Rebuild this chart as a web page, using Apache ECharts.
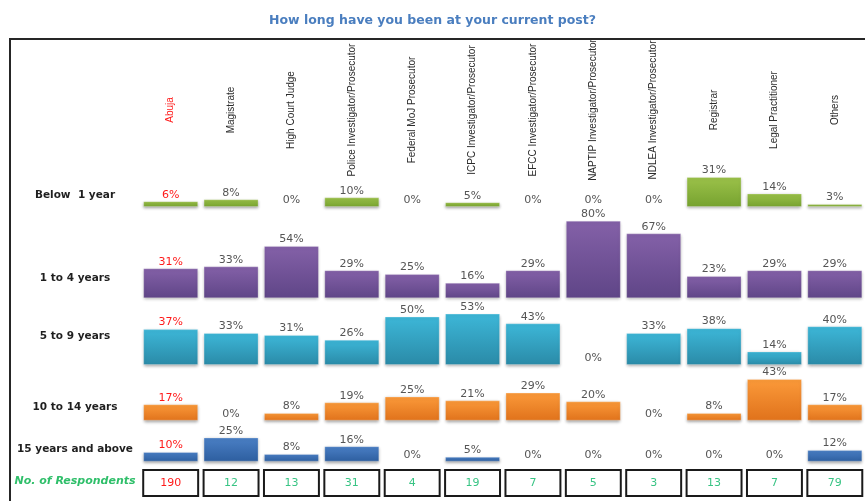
<!DOCTYPE html>
<html>
<head>
<meta charset="utf-8">
<title>How long have you been at your current post?</title>
<script src="https://cdn.jsdelivr.net/npm/echarts@6/dist/echarts.min.js"></script>
<style>
  html, body { margin: 0; padding: 0; background: #ffffff; }
  #chart { width: 865px; height: 501px; }
</style>
</head>
<body>
<div id="chart"></div>
<script>
// Respondent groups (columns)
const categories = [
  'Abuja', 'Magistrate', 'High Court Judge', 'Police Investigator/Prosecutor',
  'Federal MoJ Prosecutor', 'ICPC Investigator/Prosecutor', 'EFCC Investigator/Prosecutor',
  'NAPTIP Investigator/Prosecutor', 'NDLEA Investigator/Prosecutor', 'Registrar',
  'Legal Practitioner', 'Others'
];

// Time at current post (rows)
const rowLabels = ['Below  1 year', '1 to 4 years', '5 to 9 years', '10 to 14 years', '15 years and above'];

// Percentages per row, one value per column
const below1Year   = [6, 8, 0, 10, 0, 5, 0, 0, 0, 31, 14, 3];
const oneToFour    = [31, 33, 54, 29, 25, 16, 29, 80, 67, 23, 29, 29];
const fiveToNine   = [37, 33, 31, 26, 50, 53, 43, 0, 33, 38, 14, 40];
const tenToFourteen = [17, 0, 8, 19, 25, 21, 29, 20, 0, 8, 43, 17];
const fifteenPlus  = [10, 25, 8, 16, 0, 5, 0, 0, 0, 0, 0, 12];

// Number of respondents per column
const respondents = [190, 12, 13, 31, 4, 19, 7, 5, 3, 13, 7, 79];
const respondentsLabel = 'No. of Respondents';

const rows = [below1Year, oneToFour, fiveToNine, tenToFourteen, fifteenPlus];

// Layout of the row panels
const GRID_LEFT = 140.5;
const GRID_WIDTH = 727.2;
const PANEL_H = 97;                       // 100 % panel height
const baselines = [207, 298.3, 365, 420.7, 461.7];
const rowLabelY = [195.7, 278.3, 336.7, 407.3, 449.3];
const highlight = '#ff1a1a';

const gradients = [
  ['#9cc24a', '#76a22f'],
  ['#8461a8', '#5f4587'],
  ['#3db7d8', '#2a8aa7'],
  ['#fb9a3a', '#e0721b'],
  ['#4b80c6', '#2d5e9f']
];

const FONT = 'DejaVu Sans';

const grids = [];
const xAxes = [];
const yAxes = [];
const series = [];

// Header grid: the column names, rotated, centred on y = 110
grids.push({ left: GRID_LEFT, width: GRID_WIDTH, top: 40, height: 70 });
xAxes.push({
  gridIndex: 0, type: 'category', data: categories, position: 'bottom',
  axisLine: { show: false }, axisTick: { show: false }, splitLine: { show: false },
  axisLabel: {
    interval: 0, rotate: 90, margin: 0, align: 'center', verticalAlign: 'middle',
    fontFamily: 'Liberation Sans', fontSize: 10,
    hideOverlap: false,
    color: function (value, index) { return index === 0 ? highlight : '#2b2b2b'; }
  }
});
yAxes.push({ gridIndex: 0, type: 'value', show: false, min: 0, max: 1 });

// One panel per time band
rows.forEach(function (values, r) {
  const gi = grids.length;
  grids.push({ left: GRID_LEFT, width: GRID_WIDTH, top: baselines[r] - PANEL_H, height: PANEL_H });
  xAxes.push({ gridIndex: gi, type: 'category', data: categories, show: false });
  yAxes.push({ gridIndex: gi, type: 'value', show: false, min: 0, max: 100 });
  series.push({
    type: 'bar',
    xAxisIndex: gi, yAxisIndex: gi,
    barWidth: 55,
    silent: true,
    data: values.map(function (v, i) {
      const item = { value: v };
      if (i === 0) item.label = { color: highlight };
      // empty cells carry only their 0% caption
      if (v === 0) item.itemStyle = { color: 'rgba(0,0,0,0)', shadowBlur: 0, shadowOffsetY: 0, shadowColor: 'rgba(0,0,0,0)', borderWidth: 0 };
      return item;
    }),
    itemStyle: {
      color: new echarts.graphic.LinearGradient(0, 0, 0, 1, [
        { offset: 0, color: gradients[r][0] },
        { offset: 1, color: gradients[r][1] }
      ]),
      borderColor: 'rgba(255,255,255,0.25)',
      borderWidth: 1,
      shadowColor: 'rgba(0,0,0,0.35)',
      shadowBlur: 3,
      shadowOffsetY: 1.5
    },
    label: {
      show: true, position: 'top', distance: 1,
      formatter: '{c}%',
      fontFamily: FONT, fontSize: 11, color: '#555555'
    }
  });
});

// Respondent count boxes
const boxGrid = grids.length;
grids.push({ left: GRID_LEFT, width: GRID_WIDTH, top: 470, height: 26 });
xAxes.push({ gridIndex: boxGrid, type: 'category', data: categories, show: false });
yAxes.push({ gridIndex: boxGrid, type: 'value', show: false, min: 0, max: 1 });
series.push({
  type: 'custom',
  xAxisIndex: boxGrid, yAxisIndex: boxGrid,
  silent: true,
  data: respondents.map(function (n, i) { return [i, n]; }),
  renderItem: function (params, api) {
    const idx = api.value(0);
    const bottom = api.coord([idx, 0]);
    const top = api.coord([idx, 1]);
    const band = api.size([1, 0])[0];
    const w = band * 0.91;
    const h = bottom[1] - top[1];
    return {
      type: 'group',
      children: [
        {
          type: 'rect',
          shape: { x: bottom[0] - w / 2, y: top[1], width: w, height: h },
          style: { fill: '#ffffff', stroke: '#1a1a1a', lineWidth: 2 }
        },
        {
          type: 'text',
          x: bottom[0], y: top[1] + h / 2 + 0.5,
          style: {
            text: String(api.value(1)),
            fill: idx === 0 ? highlight : '#38c484',
            font: '11px "' + FONT + '"',
            align: 'center', verticalAlign: 'middle'
          }
        }
      ]
    };
  }
});

// Row captions and the outer frame
const graphics = rowLabels.map(function (txt, r) {
  return {
    type: 'text', x: 75, y: rowLabelY[r],
    style: {
      text: txt, fill: '#1f1f1f',
      font: 'bold 10.5px "' + FONT + '"',
      align: 'center', verticalAlign: 'middle'
    }
  };
});
graphics.push({
  type: 'text', x: 75, y: 481,
  style: {
    text: respondentsLabel, fill: '#2fbf6a',
    font: 'italic bold 11px "' + FONT + '"',
    align: 'center', verticalAlign: 'middle'
  }
});
graphics.push({
  type: 'polyline',
  shape: { points: [[10, 501], [10, 39], [865, 39]] },
  style: { stroke: '#262626', lineWidth: 2, fill: null }
});

const chart = echarts.init(document.getElementById('chart'), null, { renderer: 'canvas' });
chart.setOption({
  animation: false,
  backgroundColor: '#ffffff',
  title: {
    text: 'How long have you been at your current post?',
    left: 'center', top: 9,
    textStyle: { fontFamily: FONT, fontSize: 12.5, fontWeight: 'bold', color: '#4a7ebf' }
  },
  grid: grids,
  xAxis: xAxes,
  yAxis: yAxes,
  series: series,
  graphic: graphics
});
</script>
</body>
</html>
